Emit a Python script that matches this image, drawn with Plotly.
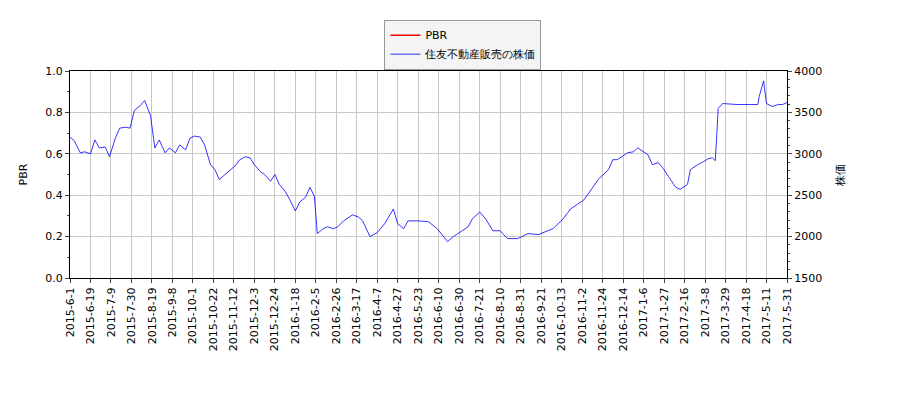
import plotly.graph_objects as go

tick_labels = ["2015-6-1","2015-6-19","2015-7-9","2015-7-30","2015-8-19","2015-9-8","2015-10-1","2015-10-22",
"2015-11-12","2015-12-3","2015-12-24","2016-1-18","2016-2-5","2016-2-26","2016-3-17","2016-4-7","2016-4-27",
"2016-5-23","2016-6-10","2016-6-30","2016-7-21","2016-8-10","2016-8-31","2016-9-21","2016-10-13","2016-11-2",
"2016-11-24","2016-12-14","2017-1-6","2017-1-27","2017-2-16","2017-3-8","2017-3-29","2017-4-18","2017-5-11","2017-5-31"]
tick_step = 14  # trading days between labels

day = [0,3,7,10,14,17,20,24,27,31,34,38,41,44,48,51,55,58,61,65,68,72,75,79,82,85,89,92,96,99,102,106,109,113,116,120,
123,126,130,133,137,140,143,147,150,154,157,161,164,167,169,173,176,180,183,187,193,197,200,205,210,215,221,224,228,231,
238,245,251,255,258,262,265,272,275,280,284,289,294,299,306,313,320,327,330,337,342,347,351,354,361,368,371,374,378,381,
385,388,395,398,402,405,409,414,417,422,424,429,433,436,439,441,443,446,456,470,471,474,476,480,484,487,490]
price = [3202,3155,3012,3024,3000,3167,3071,3083,2964,3190,3310,3321,3310,3524,3583,3643,3464,3071,3167,3012,3071,3012,
3107,3048,3190,3214,3202,3107,2869,2810,2690,2750,2786,2857,2929,2964,2952,2869,2786,2750,2667,2750,2631,2548,2452,2310,
2417,2476,2595,2488,2036,2095,2119,2095,2119,2190,2262,2238,2190,2000,2048,2155,2333,2155,2095,2190,2190,2179,2095,2000,
1940,2000,2036,2119,2214,2298,2214,2071,2071,1976,1976,2036,2024,2071,2095,2214,2333,2393,2440,2512,2690,2810,2929,2929,
2976,3012,3024,3071,2988,2869,2893,2833,2726,2595,2571,2631,2810,2869,2905,2940,2952,2917,3548,3607,3595,3595,3690,3881,
3607,3571,3595,3595,3619]

font = dict(family="DejaVu Sans", size=11, color="black")
fig = go.Figure()
fig.add_trace(go.Scatter(x=[0], y=[None], mode="lines", line=dict(color="red", width=1.5), name="PBR"))
fig.add_trace(go.Scatter(x=day, y=price, mode="lines", line=dict(color="blue", width=0.8),
                         name="住友不動産販売の株価", yaxis="y2"))
axis_common = dict(showline=True, linecolor="black", ticks="outside", ticklen=4,
                   gridcolor="#c8c8c8", zeroline=False, tickfont=font)
fig.update_layout(
    width=900, height=400, margin=dict(l=62, r=121, t=60, b=130),
    plot_bgcolor="white", paper_bgcolor="white", font=font,
    xaxis=dict(range=[0, tick_step*(len(tick_labels)-1)],
               tickvals=[i*tick_step for i in range(len(tick_labels))], ticktext=tick_labels,
               tickangle=-90, mirror=True, **axis_common),
    yaxis=dict(range=[0, 1], dtick=0.2, tickformat=".1f", title=dict(text="PBR", font=font),
               minor=dict(ticks="outside", ticklen=2, dtick=0.1, showgrid=False), **axis_common),
    yaxis2=dict(range=[1500, 4000], dtick=500, overlaying="y", side="right", showgrid=False,
                title=dict(text="株価", font=font),
                minor=dict(ticks="outside", ticklen=2, dtick=100), **axis_common),
    legend=dict(x=0.548, y=1.248, xanchor="center", yanchor="top", bordercolor="#999", borderwidth=1,
                bgcolor="#f4f4f4", font=font),
    showlegend=True,
)
fig.write_html("out.html")
